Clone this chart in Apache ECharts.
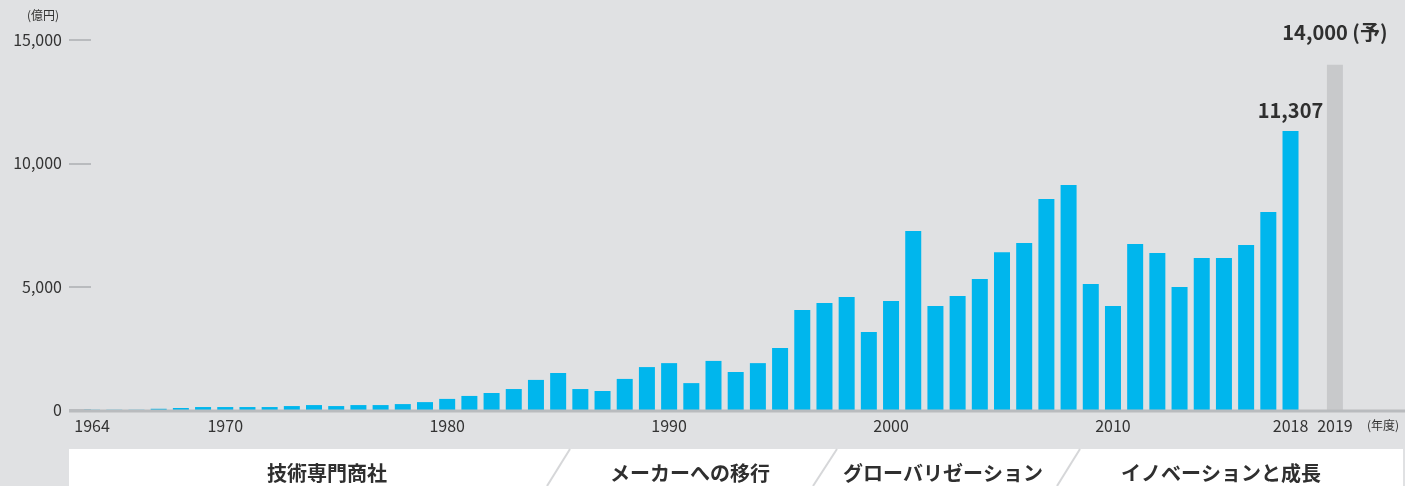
<!DOCTYPE html>
<html lang="ja">
<head>
<meta charset="utf-8">
<title>売上高推移</title>
<script src="https://cdn.jsdelivr.net/npm/echarts@6/dist/echarts.min.js"></script>
<style>
  html, body { margin: 0; padding: 0; background: #e0e1e3; }
  #salesChart { width: 1405px; height: 486px; }
</style>
</head>
<body>
<div id="salesChart"></div>
<script>
// 年度（2018と2019の間は空ける）
var years = ['1964', '1965', '1966', '1967', '1968', '1969', '1970', '1971', '1972', '1973',
  '1974', '1975', '1976', '1977', '1978', '1979', '1980', '1981', '1982', '1983',
  '1984', '1985', '1986', '1987', '1988', '1989', '1990', '1991', '1992', '1993',
  '1994', '1995', '1996', '1997', '1998', '1999', '2000', '2001', '2002', '2003',
  '2004', '2005', '2006', '2007', '2008', '2009', '2010', '2011', '2012', '2013',
  '2014', '2015', '2016', '2017', '2018', '', '2019'];
// 売上高（億円）
var sales = [10, 10, 10, 50, 80, 120, 120, 120, 120, 160,
  200, 160, 200, 200, 240, 320, 450, 570, 690, 850,
  1220, 1500, 850, 770, 1260, 1740, 1900, 1090, 1990, 1540,
  1900, 2510, 4050, 4340, 4580, 3160, 4420, 7260, 4220, 4620,
  5310, 6400, 6770, 8550, 9120, 5110, 4220, 6730, 6360, 4990,
  6160, 6160, 6690, 8030, 11307, '-', 14000];
// 予想の年度
var forecastYears = ['2019'];
// 数値を表示する年度
var labelYears = ['2018', '2019'];
// 表示する目盛ラベル
var shownYears = ['1964', '1970', '1980', '1990', '2000', '2010', '2018', '2019'];
var yTicks = [0, 5000, 10000, 15000];
// 下部の時代区分
var eras = ['技術専門商社', 'メーカーへの移行', 'グローバリゼーション', 'イノベーションと成長'];

var font = '"Noto Sans CJK JP", "Noto Sans", sans-serif';

function fmt(v) {
  return Number(v).toLocaleString('en-US');
}

var barData = sales.map(function (v, i) {
  var y = years[i];
  var item = { value: v };
  if (forecastYears.indexOf(y) >= 0) {
    item.itemStyle = { color: '#c8c9cb' };
  }
  if (labelYears.indexOf(y) >= 0) {
    var fc = forecastYears.indexOf(y) >= 0;
    item.label = {
      show: true,
      position: 'top',
      distance: fc ? 22 : 11,
      fontFamily: font,
      fontWeight: 'bold',
      fontSize: 20,
      color: '#2f2f2f',
      formatter: function (p) {
        return fmt(p.value) + (fc ? ' (予)' : '');
      }
    };
  }
  return item;
});

// 時代区分の帯
var eraCenters = [327, 690, 943, 1221];
var slashes = [[570, 547], [837, 813], [1080, 1057]];
var graphics = [
  { type: 'rect', shape: { x: 69, y: 449, width: 1334, height: 40 }, style: { fill: '#ffffff' }, z: 1 },
  { type: 'line', shape: { x1: 69, y1: 411, x2: 1405, y2: 411 }, style: { stroke: '#b9bbbe', lineWidth: 3 }, z: 100 },
  { type: 'text', left: 27, top: 9, style: { text: '(億円)', font: '12px ' + font, fill: '#333' } },
  { type: 'text', left: 1367, top: 419, style: { text: '(年度)', font: '12px ' + font, fill: '#333' } }
];
slashes.forEach(function (s) {
  graphics.push({ type: 'line', shape: { x1: s[0], y1: 449, x2: s[1], y2: 486 }, style: { stroke: '#d6d7d9', lineWidth: 2 }, z: 2 });
});
eras.forEach(function (t, i) {
  graphics.push({
    type: 'text', x: eraCenters[i], y: 473, z: 3,
    style: { text: t, font: 'bold 20px ' + font, fill: '#2f2f2f', textAlign: 'center', textVerticalAlign: 'middle' }
  });
});

var option = {
  backgroundColor: '#e0e1e3',
  animation: false,
  grid: { left: 81, right: 59, top: 40, bottom: 76 },
  xAxis: {
    type: 'category',
    data: years,
    axisLine: { show: false },
    axisTick: { show: false },
    axisLabel: {
      interval: function (idx, val) { return shownYears.indexOf(val) >= 0; },
      margin: 8,
      fontFamily: font,
      fontSize: 16,
      color: '#333'
    }
  },
  yAxis: {
    type: 'value',
    min: yTicks[0],
    max: yTicks[yTicks.length - 1],
    interval: 5000,
    offset: -10,
    axisLine: { show: false },
    axisTick: { show: true, length: 22, lineStyle: { color: '#b9bbbe', width: 2 } },
    splitLine: { show: false },
    axisLabel: {
      margin: 29,
      fontFamily: font,
      fontSize: 16,
      color: '#333',
      formatter: function (v) { return fmt(v); }
    }
  },
  series: [{
    type: 'bar',
    barWidth: 16,
    itemStyle: { color: '#00b6ed' },
    data: barData
  }],
  graphic: graphics
};

var chart = echarts.init(document.getElementById('salesChart'));
chart.setOption(option);
</script>
</body>
</html>
